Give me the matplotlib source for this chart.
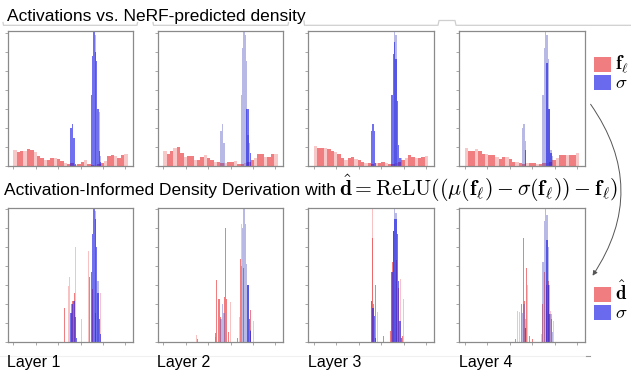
import numpy as np
import matplotlib
matplotlib.use("Agg")
import matplotlib.pyplot as plt
from matplotlib.patches import Rectangle, FancyArrowPatch
from matplotlib.lines import Line2D

plt.rcParams["font.family"] = ["Liberation Sans", "DejaVu Sans"]
plt.rcParams["mathtext.fontset"] = "cm"

W, H = 631, 373

layer_names = ["Layer 1", "Layer 2", "Layer 3", "Layer 4"]

# activations f_l, top row: histogram bins of width 0.15 over [0, 5.1]
act_edges = np.linspace(0, 5.1, 35)
act_l1 = [0.85, 0.72, 0.75, 0.78, 0.90, 0.84, 0.72, 0.50, 0.40, 0.28, 0.30, 0.42,
          0.42, 0.36, 0.25, 0.12, 0.09, 0.12, 0.05, 0.09, 0.20, 0.32, 0.10, 0.05,
          0.06, 0.09, 0.12, 0.26, 0.50, 0.58, 0.50, 0.42, 0.56, 0.63]
act_l2 = [0.75, 0.60, 0.75, 0.95, 1.00, 0.65, 0.45, 0.50, 0.50, 0.30, 0.30, 0.45,
          0.55, 0.42, 0.28, 0.18, 0.18, 0.15, 0.15, 0.20, 0.22, 0.25, 0.10, 0.07,
          0.12, 0.18, 0.28, 0.40, 0.62, 0.62, 0.45, 0.45, 0.60, 0.60]
act_l3 = [1.05, 0.92, 0.92, 0.95, 0.87, 0.75, 0.70, 0.60, 0.38, 0.29, 0.42, 0.45,
          0.36, 0.29, 0.20, 0.16, 0.14, 0.07, 0.12, 0.16, 0.18, 0.16, 0.07, 0.07,
          0.12, 0.18, 0.28, 0.42, 0.55, 0.48, 0.42, 0.42, 0.45, 0.52]
act_l4 = [0.95, 0.78, 0.75, 0.87, 0.78, 0.63, 0.60, 0.55, 0.54, 0.45, 0.36, 0.45,
          0.45, 0.33, 0.20, 0.18, 0.16, 0.07, 0.12, 0.16, 0.12, 0.07, 0.07, 0.12,
          0.14, 0.18, 0.28, 0.42, 0.58, 0.58, 0.54, 0.55, 0.56, 0.65]

# NeRF density sigma: bins of width 0.06
sigma_bins = [2.52, 2.58, 2.64, 2.70, 2.76, 2.82, 2.88, 2.94, 3.00, 3.06, 3.12, 3.18, 3.24,
              3.30, 3.36, 3.42, 3.48, 3.54, 3.60, 3.66, 3.72, 3.78, 3.84, 3.90, 3.96]
sig_top1 = [0, 2.0, 2.2, 1.45, 0.1, 0, 0, 0, 0, 0, 0, 0, 0, 0, 0, 0, 3.7, 5.75, 7.1, 6.0, 5.5, 3.0, 0.75, 0.2, 0]
sig_top1_f = [0, 0, 0, 0, 0, 0, 0, 0, 0, 0, 0, 0, 0, 0, 0, 0, 0, 0, 0, 6.9, 0, 0, 2.8, 0.5, 0]
sig_top2 = [0, 0, 0, 0, 0, 0, 0, 0, 0, 0, 0, 0, 0, 0, 0, 0, 0, 0, 0, 0, 3.0, 3.0, 0, 0.67, 0]
sig_top2_f = [0, 1.8, 2.2, 1.2, 0, 0, 0, 0, 0, 0, 0, 0, 0, 0, 0, 0, 3.7, 6.2, 7.1, 6.9, 5.5, 1.6, 1.2, 0, 0]
sig_top3 = [0, 1.8, 2.2, 1.8, 0.15, 0, 0, 0, 0, 0, 0, 0, 0, 0, 0, 0, 3.7, 5.85, 6.5, 5.6, 3.4, 1.1, 0.4, 0, 0]
sig_top3_f = [0, 0, 0, 0, 0, 0, 0, 0, 0, 0, 0, 0, 0, 0, 0, 0, 0, 0, 7.1, 6.9, 0, 0, 0, 0.4, 0]
sig_top4 = [0, 0, 0, 0.85, 0, 0, 0, 0, 0, 0, 0, 0, 0, 0, 0, 0, 0, 0, 0, 5.4, 3.0, 3.0, 0.67, 0, 0]
sig_top4_f = [0, 2.0, 2.2, 1.3, 0, 0, 0, 0, 0, 0, 0, 0, 0, 0, 0, 0, 3.7, 6.2, 7.1, 6.9, 5.6, 3.0, 0.8, 0.5, 0]

sig_bot1 = [0, 1.5, 2.0, 2.15, 1.28, 0.2, 0, 0, 0, 0, 0, 0, 0, 0, 0, 0, 3.7, 5.7, 7.1, 6.5, 5.0, 2.6, 1.2, 0.4, 0]
sig_bot1_f = [0, 0, 0, 0, 0, 0, 0, 0, 0, 0, 0, 0, 0, 0, 0, 0, 0, 0, 0, 6.9, 0, 3.2, 0, 0, 0]
sig_bot2 = [0, 0, 0, 0, 0, 0, 0, 0, 0, 0, 0, 0, 0, 0, 0, 0, 0, 0, 0, 0, 0, 3.0, 0, 0.58, 0]
sig_bot2_f = [0, 1.2, 2.0, 1.5, 0, 0, 0, 0, 0, 0, 0, 0, 0, 0, 0, 0, 4.0, 6.0, 7.1, 6.2, 4.1, 3.0, 1.2, 0.6, 0]
sig_bot3 = [0, 2.15, 1.8, 1.37, 0.2, 0, 0, 0, 0, 0, 0, 0, 0, 0, 0, 0, 3.7, 5.85, 6.5, 6.5, 5.7, 3.2, 1.1, 0.2, 0]
sig_bot3_f = [0, 0, 0, 0, 0, 0, 0, 0, 0, 0, 0, 0, 0, 0, 0, 0, 0, 0, 7.1, 6.8, 0, 0, 0, 0, 0]
sig_bot4 = [0, 0, 0, 0.75, 0, 0, 0, 0, 0, 0, 0, 0, 0, 0, 0, 0, 0, 0, 0, 5.4, 3.0, 1.45, 0, 0, 0]
sig_bot4_f = [0, 1.5, 2.0, 1.2, 0, 0, 0, 0, 0, 0, 0, 0, 0, 0, 0, 0, 4.2, 6.4, 7.1, 6.7, 5.0, 3.0, 1.45, 0.5, 0]

# derived density d_hat, bottom row: sparse thin bins (x, height)
dhat1_x = [2.27, 2.58, 2.66, 2.72, 3.40, 3.54, 3.60, 3.66]
dhat1_h = [1.77, 2.0, 2.15, 2.55, 3.4, 2.8, 2.5, 1.5]
dhat1_fx = [2.46, 2.51, 2.78, 2.84, 3.03, 3.36, 3.88, 3.96]
dhat1_fh = [2.95, 3.4, 5.0, 0.3, 1.2, 4.8, 2.6, 1.1]

dhat2_x = [1.54, 2.34, 2.39, 2.46, 2.51, 2.57, 2.72, 2.76, 2.82, 2.90, 3.31, 3.43, 3.58, 3.84, 3.91]
dhat2_h = [0.15, 0.44, 3.25, 2.25, 2.25, 1.28, 2.37, 6.0, 2.25, 0.5, 0.2, 4.35, 3.9, 1.2, 1.7]
dhat2_fx = [1.49, 2.31, 3.01, 3.39, 3.49, 4.01]
dhat2_fh = [0.37, 0.25, 2.1, 1.28, 6.2, 1.1]

dhat3_x = [2.60, 2.66, 2.73, 3.10, 3.43, 3.49, 3.55, 3.70, 3.79, 3.94]
dhat3_h = [5.5, 2.0, 3.0, 0.32, 0.58, 4.2, 5.85, 4.3, 2.85, 0.3]
dhat3_fx = [2.62, 2.82, 3.88, 4.00]
dhat3_fh = [7.1, 1.55, 3.3, 2.25]

dhat4_x = [2.24, 2.54, 2.61, 2.67, 2.73, 2.87, 3.01, 3.46, 3.55, 3.64, 3.73, 3.88]
dhat4_h = [0.15, 2.0, 5.5, 2.15, 3.9, 0.3, 0.15, 2.0, 3.7, 3.0, 3.2, 1.2]
dhat4_fx = [2.36, 2.42, 2.79, 3.40, 3.81, 3.96]
dhat4_fh = [1.6, 1.55, 3.0, 0.4, 1.6, 1.1]

RED = "#e8383a"
BLUE = "#1a1ae6"
BLUE_F = "#5050c0"


def px_box(left, top, width, height):
    return [left / W, 1 - (top + height) / H, width / W, height / H]


def style_axes(ax):
    ax.set_xlim(-0.254, 5.343)
    ax.set_ylim(0, 7.07)
    ax.set_xticks(range(6))
    ax.set_yticks(range(8))
    ax.tick_params(length=2.2, width=0.6, color="#9a9a9a",
                   labelbottom=False, labelleft=False)
    for s in ax.spines.values():
        s.set_color("#8a8a8a")
        s.set_linewidth(0.9)


def draw_sigma(ax, strong, faint):
    ax.bar(sigma_bins, faint, width=0.06, color=BLUE_F, alpha=0.4, linewidth=0)
    ax.bar(sigma_bins, strong, width=0.06, color=BLUE, alpha=0.62, linewidth=0)


fig = plt.figure(figsize=(W / 100, H / 100), dpi=100)

lefts = [7.7, 157.7, 308.3, 459.3]
acts = [act_l1, act_l2, act_l3, act_l4]
sig_top = [(sig_top1, sig_top1_f), (sig_top2, sig_top2_f), (sig_top3, sig_top3_f), (sig_top4, sig_top4_f)]
sig_bot = [(sig_bot1, sig_bot1_f), (sig_bot2, sig_bot2_f), (sig_bot3, sig_bot3_f), (sig_bot4, sig_bot4_f)]
dhats = [(dhat1_x, dhat1_h, dhat1_fx, dhat1_fh), (dhat2_x, dhat2_h, dhat2_fx, dhat2_fh),
         (dhat3_x, dhat3_h, dhat3_fx, dhat3_fh), (dhat4_x, dhat4_h, dhat4_fx, dhat4_fh)]

# every third activation bin is drawn pale, like the striped original
faint_mask = np.arange(len(act_edges) - 1) % 3 == 0

for i, left in enumerate(lefts):
    # top row: activations vs sigma
    ax = fig.add_axes(px_box(left, 31.3, 125.3, 134.4))
    a = np.array(acts[i])
    ax.stairs(np.where(faint_mask, 0, a), act_edges, fill=True, color=RED, alpha=0.65, lw=0)
    ax.stairs(np.where(faint_mask, a, 0), act_edges, fill=True, color=RED, alpha=0.28, lw=0)
    draw_sigma(ax, *sig_top[i])
    style_axes(ax)

    # bottom row: derived density vs sigma
    ax = fig.add_axes(px_box(left, 208.0, 125.3, 133.7))
    dx, dh, fx, fh = dhats[i]
    ax.bar(fx, fh, width=0.04, color=RED, alpha=0.3, linewidth=0)
    ax.bar(dx, dh, width=0.04, color=RED, alpha=0.65, linewidth=0)
    draw_sigma(ax, *sig_bot[i])
    style_axes(ax)

    fig.text((left - 0.5) / W, 1 - 367 / H, layer_names[i], fontsize=11.5, va="baseline")

# headings
fig.text(7 / W, 1 - 20.7 / H, "Activations vs. NeRF-predicted density", fontsize=12.5, va="baseline")
fig.text(4 / W, 1 - 195 / H, "Activation-Informed Density Derivation with", fontsize=12.5, va="baseline")
fig.text(339 / W, 1 - 195.5 / H,
         r"$\hat{\mathbf{d}} = \mathrm{ReLU}((\mu(\mathbf{f}_\ell) - \sigma(\mathbf{f}_\ell)) - \mathbf{f}_\ell)$",
         fontsize=15.6, va="baseline")

# bracket lines below the top heading
gray = "#cfcfcf"
for pts in ([(3, 22.5), (3.5, 25.3), (137, 25.3), (137.5, 22.5)],
            [(153, 22.5), (153.5, 25.3), (288, 25.3), (288.5, 22.5)],
            [(304, 21), (304.5, 25.3), (438, 25.3), (439, 20.5), (455, 20.5), (456, 25.3), (631, 25.3)]):
    xs = [p[0] / W for p in pts]
    ys = [1 - p[1] / H for p in pts]
    fig.add_artist(Line2D(xs, ys, color=gray, lw=0.9, transform=fig.transFigure))
fig.add_artist(Line2D([0, 586 / W], [1 - 356 / H] * 2, color="#f0f0f0", lw=0.8, transform=fig.transFigure))
fig.add_artist(Line2D([586 / W, 590 / W], [1 - 356 / H] * 2, color="#999999", lw=0.8, transform=fig.transFigure))


# legends
def legend_entry(top, color, label, baseline):
    fig.add_artist(Rectangle((594 / W, 1 - (top + 15) / H), 17 / W, 15 / H,
                             color=color, alpha=0.65, lw=0, transform=fig.transFigure))
    fig.text(615 / W, 1 - baseline / H, label, fontsize=13.5, va="baseline")


legend_entry(57, RED, r"$\mathbf{f}_\ell$", 69.5)
legend_entry(75, BLUE, r"$\sigma$", 88)
legend_entry(287, RED, r"$\hat{\mathbf{d}}$", 300.5)
legend_entry(305, BLUE, r"$\sigma$", 318)

# curved arrow linking the rows
arrow = FancyArrowPatch((589 / W, 1 - 102 / H), (591 / W, 1 - 278 / H),
                        transform=fig.transFigure, connectionstyle="arc3,rad=-0.35",
                        arrowstyle="-|>", mutation_scale=7, lw=0.7, color="#555555")
fig.add_artist(arrow)

fig.savefig("out.png", dpi=100)
